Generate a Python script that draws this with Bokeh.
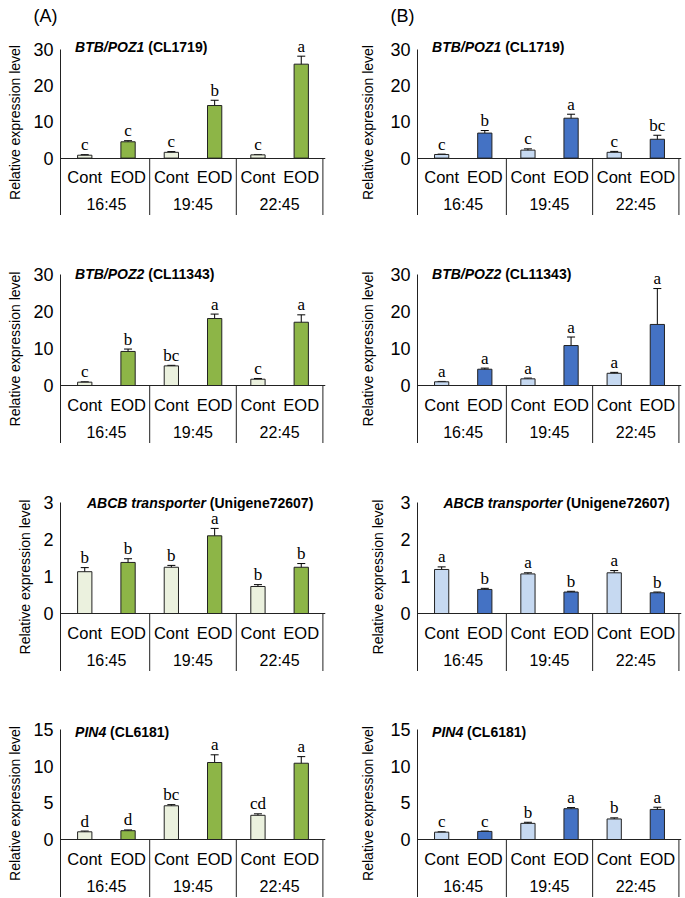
from bokeh.plotting import figure
from bokeh.models import (FactorRange, Range1d, CategoricalAxis, LinearAxis, FixedTicker,
                          ColumnDataSource, Whisker, TeeHead, Label, Grid)
from bokeh.layouts import gridplot
from bokeh.embed import file_html
from bokeh.resources import INLINE
from bokeh.core.properties import value

# ---------------- data ----------------
times = ["16:45", "19:45", "22:45"]
treatments = ["Cont", "EOD"]

# (A) BTB/POZ1
a1_cont = [0.8, 1.6, 0.9]
a1_cont_err = [0.15, 0.2, 0.1]
a1_eod = [4.5, 14.5, 25.9]
a1_eod_err = [0.3, 1.45, 2.2]
a1_cont_lab = ["c", "c", "c"]
a1_eod_lab = ["c", "b", "a"]
# (B) BTB/POZ1
b1_cont = [1.0, 2.2, 1.6]
b1_cont_err = [0.1, 0.35, 0.25]
b1_eod = [6.9, 11.0, 5.2]
b1_eod_err = [0.7, 1.1, 1.1]
b1_cont_lab = ["c", "c", "c"]
b1_eod_lab = ["b", "a", "bc"]
# (A) BTB/POZ2
a2_cont = [0.9, 5.3, 1.7]
a2_cont_err = [0.1, 0.15, 0.2]
a2_eod = [9.2, 18.1, 17.1]
a2_eod_err = [0.65, 1.2, 2.0]
a2_cont_lab = ["c", "bc", "c"]
a2_eod_lab = ["b", "a", "a"]
# (B) BTB/POZ2
b2_cont = [1.0, 1.8, 3.3]
b2_cont_err = [0.1, 0.2, 0.25]
b2_eod = [4.4, 10.8, 16.5]
b2_eod_err = [0.3, 2.3, 9.7]
b2_cont_lab = ["a", "a", "a"]
b2_eod_lab = ["a", "a", "a"]
# (A) ABCB transporter
a3_cont = [1.13, 1.25, 0.73]
a3_cont_err = [0.11, 0.05, 0.05]
a3_eod = [1.38, 2.1, 1.25]
a3_eod_err = [0.1, 0.2, 0.1]
a3_cont_lab = ["b", "b", "b"]
a3_eod_lab = ["b", "a", "b"]
# (B) ABCB transporter
b3_cont = [1.19, 1.07, 1.10]
b3_cont_err = [0.07, 0.03, 0.06]
b3_eod = [0.65, 0.58, 0.56]
b3_eod_err = [0.03, 0.02, 0.02]
b3_cont_lab = ["a", "a", "a"]
b3_eod_lab = ["b", "b", "b"]
# (A) PIN4
a4_cont = [1.05, 4.6, 3.3]
a4_cont_err = [0.1, 0.15, 0.2]
a4_eod = [1.2, 10.5, 10.4]
a4_eod_err = [0.1, 1.05, 0.9]
a4_cont_lab = ["d", "bc", "cd"]
a4_eod_lab = ["d", "a", "a"]
# (B) PIN4
b4_cont = [1.0, 2.2, 2.8]
b4_cont_err = [0.05, 0.15, 0.15]
b4_eod = [1.1, 4.2, 4.1]
b4_eod_err = [0.05, 0.15, 0.3]
b4_cont_lab = ["c", "b", "b"]
b4_eod_lab = ["c", "a", "a"]

gene_names = ["BTB/POZ1", "BTB/POZ2", "ABCB transporter", "PIN4"]
gene_ids = ["(CL1719)", "(CL11343)", "(Unigene72607)", "(CL6181)"]
y_max = [30, 30, 3, 15]
y_step = [10, 10, 1, 5]
panel_tags = ["(A)", "(B)"]

green_cont, green_eod = "#EBF1DE", "#8DB547"
blue_cont, blue_eod = "#C6D9F1", "#4472C4"

# ---------------- layout ----------------
FONT = "Liberation Sans"
BOX_PX = 58
pad_px = [20, 20, 20, 20]
plot_px = [110, 111, 111, 110]
row_border_top = [27, 39, 39, 38]
title_dy = [2, 1, 0, -2]
col_widths = [342, 343]
col_border_right = [17, 4]
border_left = [[60, 75], [60, 75], [51, 66], [60, 75]]
ylab_standoff = [7, 11]

ARIAL_BOLD = {"A": 722, "B": 722, "C": 722, "I": 278, "N": 722, "O": 778, "P": 667, "T": 611,
              "Z": 611, "U": 722, "L": 611, "/": 278, " ": 278, "(": 333, ")": 333,
              "a": 556, "e": 556, "n": 611, "o": 611, "p": 611, "r": 389, "s": 556, "t": 333,
              "i": 278, "g": 611}


def tw(s, size):
    return sum(ARIAL_BOLD.get(ch, 556) for ch in s) * size / 1000.0


def make_panel(r, c, cont, cont_err, eod, eod_err, cont_lab, eod_lab, fill_cont, fill_eod):
    ymax = y_max[r]
    scale = ymax / plot_px[r]
    y0 = -BOX_PX * scale
    y1 = ymax + pad_px[r] * scale
    factors = [(t, tr) for t in times for tr in treatments]
    xr = FactorRange(*factors, factor_padding=0, group_padding=0, subgroup_padding=0,
                     range_padding=0.06, range_padding_units="absolute")
    W = col_widths[c]
    bl, br, bt = border_left[r][c], col_border_right[c], row_border_top[r]
    H = bt + pad_px[r] + plot_px[r] + BOX_PX
    kw = {}
    if r == 0:
        kw["title"] = panel_tags[c]
    p = figure(x_range=xr, y_range=Range1d(y0, y1), width=W, height=H,
               output_backend="svg", toolbar_location=None,
               x_axis_location=None, y_axis_location=None,
               min_border_left=bl, min_border_right=br, min_border_top=bt, min_border_bottom=0,
               **kw)
    if r == 0:
        p.title.align = "left"
        p.title.offset = -27
        p.title.standoff = 7
        p.title.text_font = FONT
        p.title.text_font_size = "18px"
        p.title.text_font_style = "normal"
        p.title.text_color = "black"
    p.center = [rr for rr in p.center if not isinstance(rr, Grid)]
    p.outline_line_color = None
    p.background_fill_color = "white"
    p.border_fill_color = "white"
    p.extra_x_ranges = {"grp": FactorRange(*times, factor_padding=0, range_padding=0.03,
                                           range_padding_units="absolute")}

    ticks = [i * y_step[r] for i in range(int(round(ymax / y_step[r])) + 1)]
    yax = LinearAxis(ticker=FixedTicker(ticks=ticks), bounds=(y0, ymax),
                     axis_label="Relative expression level",
                     axis_label_text_font=FONT, axis_label_text_font_size="14px",
                     axis_label_text_font_style="normal", axis_label_text_color="black",
                     axis_label_standoff=ylab_standoff[c],
                     major_label_text_font=FONT, major_label_text_font_size="18px",
                     major_label_text_color="black", major_label_standoff=7,
                     major_tick_line_color=None, minor_tick_line_color=None,
                     major_tick_out=0, major_tick_in=0, minor_tick_out=0, minor_tick_in=0,
                     axis_line_color="#222222", axis_line_width=1)
    p.add_layout(yax, "left")

    xax = CategoricalAxis(fixed_location=0, major_label_standoff=10,
                          major_label_text_font=FONT, major_label_text_font_size="16.5px",
                          major_label_text_color="black",
                          group_text_alpha=0, separator_line_color=None,
                          major_tick_line_color=None, major_tick_out=0, major_tick_in=0,
                          axis_line_color="#222222", axis_line_width=1)
    p.add_layout(xax, "below")
    xax2 = CategoricalAxis(x_range_name="grp", fixed_location=0, major_label_standoff=38,
                           major_label_text_font=FONT, major_label_text_font_size="16px",
                           major_label_text_color="black",
                           major_tick_line_color=None, major_tick_out=0, major_tick_in=0,
                           axis_line_color=None)
    p.add_layout(xax2, "below")

    nt = len(treatments)
    bounds_x = [nt * (i + 1) for i in range(len(times))]
    p.segment(x0=bounds_x, y0=[0] * len(bounds_x), x1=bounds_x, y1=[y0] * len(bounds_x),
              line_color="#222222", line_width=1)

    vals, errs, labs, cols = [], [], [], []
    for i in range(len(times)):
        vals += [cont[i], eod[i]]
        errs += [cont_err[i], eod_err[i]]
        labs += [cont_lab[i], eod_lab[i]]
        cols += [fill_cont, fill_eod]
    src = ColumnDataSource(dict(x=factors, top=vals,
                                upper=[v + e for v, e in zip(vals, errs)],
                                lower=[v - e for v, e in zip(vals, errs)],
                                lab=labs, color=cols))
    p.vbar(x="x", top="top", width=0.33, source=src, fill_color="color",
           line_color="#222222", line_width=1)
    p.add_layout(Whisker(source=src, base="x", upper="upper", lower="lower",
                         line_color="black", line_width=1,
                         upper_head=TeeHead(size=8, line_color="black", line_width=1),
                         lower_head=TeeHead(size=8, line_color="black", line_width=1)))
    p.text(x="x", y="upper", text="lab", source=src, text_font=value("Liberation Serif"),
           text_font_size="17px", text_align="center", text_baseline="alphabetic",
           y_offset=-10, text_color="black")

    name, gid = gene_names[r], gene_ids[r]
    w1, wsp, w2 = tw(name, 14), tw(" ", 14), tw(gid, 14)
    frame_w = W - bl - br
    x_off = (frame_w - (w1 + wsp + w2)) / 2 if r == 2 else 12
    p.add_layout(Label(x=0, y=ymax, x_offset=x_off, y_offset=title_dy[r], text=name,
                       text_font=FONT, text_font_style="bold italic", text_font_size="14px",
                       text_baseline="middle", text_color="black"))
    p.add_layout(Label(x=0, y=ymax, x_offset=x_off + w1 + wsp, y_offset=title_dy[r], text=gid,
                       text_font=FONT, text_font_style="bold", text_font_size="14px",
                       text_baseline="middle", text_color="black"))
    return p


rows = [
    [make_panel(0, 0, a1_cont, a1_cont_err, a1_eod, a1_eod_err, a1_cont_lab, a1_eod_lab, green_cont, green_eod),
     make_panel(0, 1, b1_cont, b1_cont_err, b1_eod, b1_eod_err, b1_cont_lab, b1_eod_lab, blue_cont, blue_eod)],
    [make_panel(1, 0, a2_cont, a2_cont_err, a2_eod, a2_eod_err, a2_cont_lab, a2_eod_lab, green_cont, green_eod),
     make_panel(1, 1, b2_cont, b2_cont_err, b2_eod, b2_eod_err, b2_cont_lab, b2_eod_lab, blue_cont, blue_eod)],
    [make_panel(2, 0, a3_cont, a3_cont_err, a3_eod, a3_eod_err, a3_cont_lab, a3_eod_lab, green_cont, green_eod),
     make_panel(2, 1, b3_cont, b3_cont_err, b3_eod, b3_eod_err, b3_cont_lab, b3_eod_lab, blue_cont, blue_eod)],
    [make_panel(3, 0, a4_cont, a4_cont_err, a4_eod, a4_eod_err, a4_cont_lab, a4_eod_lab, green_cont, green_eod),
     make_panel(3, 1, b4_cont, b4_cont_err, b4_eod, b4_eod_err, b4_cont_lab, b4_eod_lab, blue_cont, blue_eod)],
]

grid = gridplot(rows, toolbar_location=None)
open("out.html", "w").write(file_html(grid, INLINE))
